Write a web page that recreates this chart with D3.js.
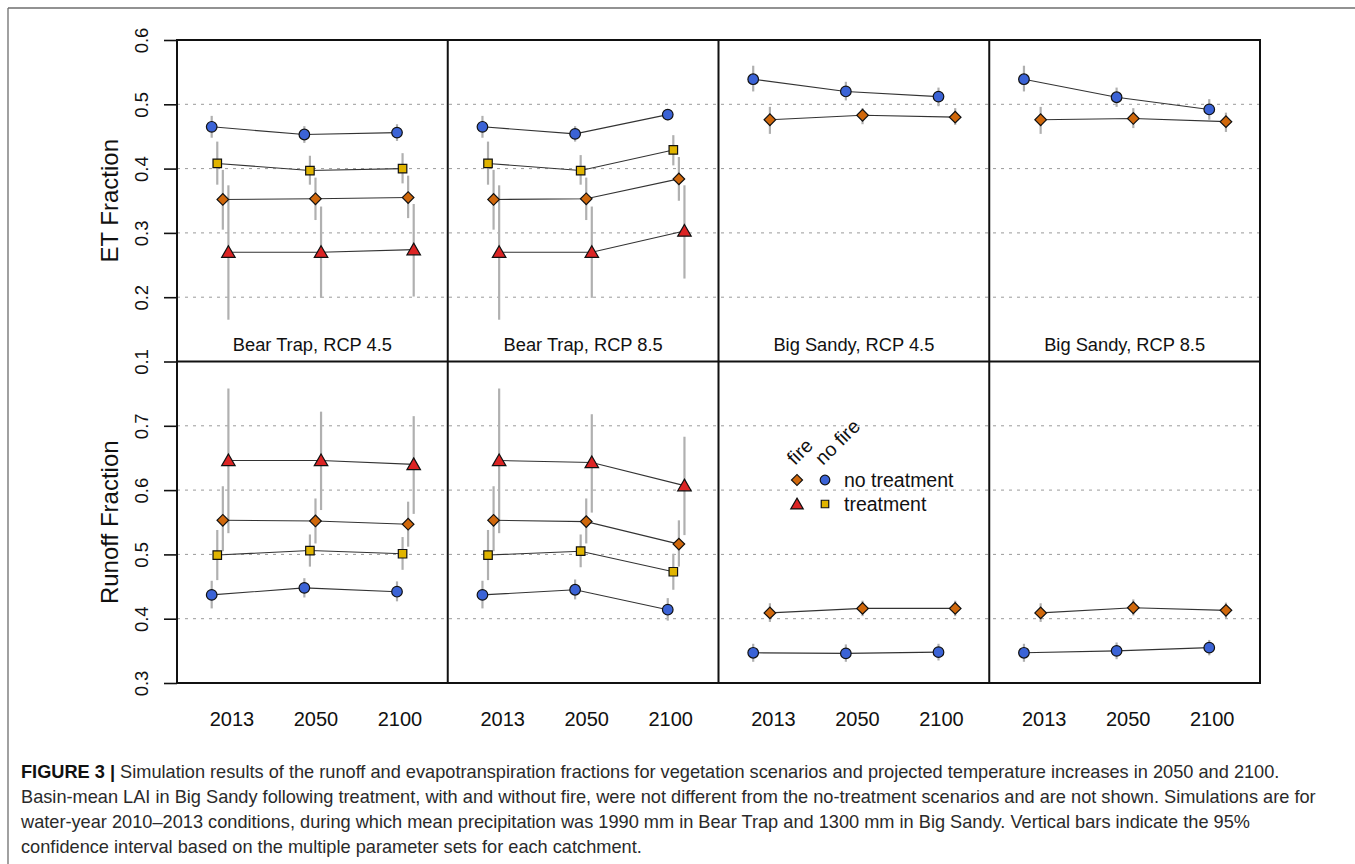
<!DOCTYPE html>
<html>
<head>
<meta charset="utf-8">
<script src="https://cdn.jsdelivr.net/npm/d3@7"></script>
<style>
  html, body { margin: 0; padding: 0; background: #fff; }
  svg { display: block; font-family: "Liberation Sans", Arial, Helvetica, sans-serif; }
</style>
</head>
<body>
<svg id="chart" width="1355" height="864"></svg>
<script>
// ---------------- DATA ----------------
const years = ["2013", "2050", "2100"];
const panelTitles = ["Bear Trap, RCP 4.5", "Bear Trap, RCP 8.5", "Big Sandy, RCP 4.5", "Big Sandy, RCP 8.5"];
const seriesKeys = ["noFireNoTreat", "noFireTreat", "fireNoTreat", "fireTreat"];
const etTicks = [0.1, 0.2, 0.3, 0.4, 0.5, 0.6];
const runoffTicks = [0.3, 0.4, 0.5, 0.6, 0.7];
const etGrid = [0.2, 0.3, 0.4, 0.5];
const runoffGrid = [0.4, 0.5, 0.6, 0.7];

// ET fraction: [mean, low, high] per year
const etBT45 = {
  noFireNoTreat: { mean: [0.465, 0.453, 0.456], lo: [0.448, 0.440, 0.443], hi: [0.482, 0.466, 0.469] },
  noFireTreat:   { mean: [0.408, 0.397, 0.400], lo: [0.375, 0.375, 0.377], hi: [0.442, 0.420, 0.424] },
  fireNoTreat:   { mean: [0.352, 0.353, 0.355], lo: [0.305, 0.320, 0.323], hi: [0.398, 0.386, 0.389] },
  fireTreat:     { mean: [0.270, 0.270, 0.274], lo: [0.165, 0.199, 0.201], hi: [0.374, 0.341, 0.345] }
};
const etBT85 = {
  noFireNoTreat: { mean: [0.465, 0.454, 0.484], lo: [0.448, 0.442, 0.475], hi: [0.482, 0.466, 0.492] },
  noFireTreat:   { mean: [0.408, 0.397, 0.429], lo: [0.375, 0.375, 0.405], hi: [0.442, 0.421, 0.452] },
  fireNoTreat:   { mean: [0.352, 0.353, 0.384], lo: [0.305, 0.320, 0.350], hi: [0.398, 0.386, 0.418] },
  fireTreat:     { mean: [0.270, 0.270, 0.303], lo: [0.165, 0.199, 0.229], hi: [0.374, 0.341, 0.374] }
};
const etBS45 = {
  noFireNoTreat: { mean: [0.539, 0.520, 0.512], lo: [0.520, 0.506, 0.497], hi: [0.560, 0.535, 0.526] },
  fireNoTreat:   { mean: [0.476, 0.483, 0.480], lo: [0.454, 0.469, 0.468], hi: [0.496, 0.494, 0.494] }
};
const etBS85 = {
  noFireNoTreat: { mean: [0.539, 0.511, 0.492], lo: [0.520, 0.496, 0.476], hi: [0.560, 0.526, 0.508] },
  fireNoTreat:   { mean: [0.476, 0.478, 0.473], lo: [0.454, 0.463, 0.457], hi: [0.496, 0.494, 0.487] }
};

// Runoff fraction
const roBT45 = {
  noFireNoTreat: { mean: [0.437, 0.448, 0.442], lo: [0.416, 0.433, 0.427], hi: [0.459, 0.463, 0.458] },
  noFireTreat:   { mean: [0.499, 0.506, 0.501], lo: [0.460, 0.481, 0.476], hi: [0.538, 0.531, 0.527] },
  fireNoTreat:   { mean: [0.553, 0.552, 0.547], lo: [0.505, 0.517, 0.512], hi: [0.606, 0.587, 0.582] },
  fireTreat:     { mean: [0.646, 0.646, 0.640], lo: [0.533, 0.569, 0.563], hi: [0.758, 0.722, 0.715] }
};
const roBT85 = {
  noFireNoTreat: { mean: [0.437, 0.445, 0.414], lo: [0.416, 0.430, 0.397], hi: [0.459, 0.461, 0.432] },
  noFireTreat:   { mean: [0.499, 0.505, 0.473], lo: [0.460, 0.480, 0.445], hi: [0.538, 0.531, 0.501] },
  fireNoTreat:   { mean: [0.553, 0.551, 0.516], lo: [0.505, 0.517, 0.481], hi: [0.606, 0.587, 0.553] },
  fireTreat:     { mean: [0.646, 0.643, 0.607], lo: [0.533, 0.565, 0.530], hi: [0.758, 0.718, 0.683] }
};
const roBS45 = {
  noFireNoTreat: { mean: [0.347, 0.346, 0.348], lo: [0.333, 0.333, 0.335], hi: [0.361, 0.360, 0.361] },
  fireNoTreat:   { mean: [0.409, 0.416, 0.416], lo: [0.395, 0.404, 0.404], hi: [0.424, 0.428, 0.428] }
};
const roBS85 = {
  noFireNoTreat: { mean: [0.347, 0.350, 0.355], lo: [0.333, 0.337, 0.343], hi: [0.361, 0.363, 0.367] },
  fireNoTreat:   { mean: [0.409, 0.417, 0.413], lo: [0.395, 0.405, 0.401], hi: [0.424, 0.430, 0.425] }
};

const etPanels = [etBT45, etBT85, etBS45, etBS85];
const roPanels = [roBT45, roBT85, roBS45, roBS85];

const legendRows = ["no treatment", "treatment"];
const legendCols = ["fire", "no fire"];

const captionLines = [
  ["FIGURE 3 |", " Simulation results of the runoff and evapotranspiration fractions for vegetation scenarios and projected temperature increases in 2050 and 2100."],
  ["", "Basin-mean LAI in Big Sandy following treatment, with and without fire, were not different from the no-treatment scenarios and are not shown. Simulations are for"],
  ["", "water-year 2010\u20132013 conditions, during which mean precipitation was 1990 mm in Bear Trap and 1300 mm in Big Sandy. Vertical bars indicate the 95%"],
  ["", "confidence interval based on the multiple parameter sets for each catchment."]
];

// ---------------- STYLE ----------------
const style = {
  noFireNoTreat: { shape: "circle",   fill: "#3b63d6" },
  noFireTreat:   { shape: "square",   fill: "#e0b400" },
  fireNoTreat:   { shape: "diamond",  fill: "#d0680c" },
  fireTreat:     { shape: "triangle", fill: "#dc2424" }
};

const svg = d3.select("#chart");
const plotL = 177, plotR = 1260, plotT = 40, plotMid = 361.5, plotB = 683;
const panelX = d3.scaleBand().domain(d3.range(4)).range([plotL, plotR]).paddingInner(0).paddingOuter(0);
const pw = panelX.bandwidth();

const yET = d3.scaleLinear().domain([0.1, 0.6]).range([plotMid, plotT]);
const yRO = d3.scaleLinear().domain([0.3, 0.8]).range([plotB, plotMid]);

// frame
svg.append("line").attr("x1", 8).attr("y1", 8).attr("x2", 1355).attr("y2", 8).attr("stroke", "#6e6e6e").attr("stroke-width", 1.3);
svg.append("line").attr("x1", 8).attr("y1", 8).attr("x2", 8).attr("y2", 864).attr("stroke", "#6e6e6e").attr("stroke-width", 1.3);

// grid lines
function grid(vals, y) {
  svg.append("g").selectAll("line").data(vals).join("line")
    .attr("x1", plotL).attr("x2", plotR)
    .attr("y1", d => y(d)).attr("y2", d => y(d))
    .attr("stroke", "#9a9a9a").attr("stroke-width", 1).attr("stroke-dasharray", "3,5");
}
grid(etGrid, yET);
grid(runoffGrid, yRO);

function symbolPath(shape, sz) {
  if (shape === "circle") return d3.symbol(d3.symbolCircle, Math.PI * sz.r * sz.r)();
  if (shape === "square") return d3.symbol(d3.symbolSquare, sz.sq * sz.sq)();
  if (shape === "diamond") return d3.symbol(d3.symbolSquare, sz.dm * sz.dm)();
  return d3.symbol(d3.symbolTriangle, sz.tri * sz.tri * Math.sqrt(3) / 4)();
}
const plotSize = { r: 5.3, sq: 8.5, dm: 8.2, tri: 13.5 };
const legSize = { r: 4.8, sq: 7.5, dm: 7.8, tri: 12.5 };

function drawSymbol(g, shape, fill, x, y, sz) {
  g.append("path")
    .attr("d", symbolPath(shape, sz))
    .attr("transform", `translate(${x},${y})` + (shape === "diamond" ? " rotate(45)" : "") + (shape === "triangle" ? " translate(0,1.3)" : ""))
    .attr("fill", fill).attr("stroke", "#111").attr("stroke-width", 1.2);
}

function drawPanel(data, pi, y) {
  const L = panelX(pi);
  const xYear = d3.scalePoint().domain(years).range([L + 34.7, L + 220]);
  const keys = seriesKeys.filter(k => data[k]);
  const xOff = d3.scalePoint().domain(keys.length === 4 ? seriesKeys : ["noFireNoTreat", "fireNoTreat"]).range([0, 16.7]);
  const g = svg.append("g");
  const px = (k, i) => xYear(years[i]) + xOff(k);
  // error bars
  keys.forEach(k => {
    years.forEach((yr, i) => {
      g.append("line").attr("x1", px(k, i)).attr("x2", px(k, i))
        .attr("y1", y(data[k].lo[i])).attr("y2", y(data[k].hi[i]))
        .attr("stroke", "#b0b0b0").attr("stroke-width", 2.2);
    });
  });
  // lines
  const line = d3.line().x(d => d[0]).y(d => d[1]);
  keys.forEach(k => {
    g.append("path").attr("d", line(years.map((yr, i) => [px(k, i), y(data[k].mean[i])])))
      .attr("fill", "none").attr("stroke", "#333").attr("stroke-width", 1.1);
  });
  // markers
  keys.forEach(k => {
    years.forEach((yr, i) => drawSymbol(g, style[k].shape, style[k].fill, px(k, i), y(data[k].mean[i]), plotSize));
  });
}
etPanels.forEach((d, i) => drawPanel(d, i, yET));
roPanels.forEach((d, i) => drawPanel(d, i, yRO));

// panel borders
svg.append("rect").attr("x", plotL).attr("y", plotT).attr("width", plotR - plotL).attr("height", plotB - plotT)
  .attr("fill", "none").attr("stroke", "#111").attr("stroke-width", 2);
svg.append("line").attr("x1", plotL).attr("x2", plotR).attr("y1", plotMid).attr("y2", plotMid).attr("stroke", "#111").attr("stroke-width", 2);
[1, 2, 3].forEach(i => {
  svg.append("line").attr("x1", panelX(i)).attr("x2", panelX(i)).attr("y1", plotT).attr("y2", plotB).attr("stroke", "#111").attr("stroke-width", 2);
});

// y axes
function yAxis(scale, ticks) {
  const g = svg.append("g").attr("transform", `translate(${plotL},0)`)
    .call(d3.axisLeft(scale).tickValues(ticks).tickSize(13).tickFormat(d3.format(".1f")));
  g.select(".domain").remove();
  g.selectAll(".tick line").attr("stroke", "#111").attr("stroke-width", 1.6);
  g.selectAll(".tick text")
    .attr("x", null).attr("dy", null).attr("y", null)
    .attr("transform", "translate(-29,0) rotate(-90)")
    .attr("text-anchor", "middle")
    .attr("font-size", 18.5).attr("fill", "#111")
    .attr("font-family", "Liberation Sans, Arial, sans-serif");
}
yAxis(yET, etTicks);
yAxis(yRO, runoffTicks);

// axis titles
svg.append("text").attr("transform", `translate(118,${(plotT + plotMid) / 2}) rotate(-90)`)
  .attr("text-anchor", "middle").attr("font-size", 24).attr("fill", "#111").text("ET Fraction");
svg.append("text").attr("transform", `translate(118,${(plotMid + plotB) / 2}) rotate(-90)`)
  .attr("text-anchor", "middle").attr("font-size", 24).attr("fill", "#111").text("Runoff Fraction");

// panel titles
panelTitles.forEach((t, i) => {
  svg.append("text").attr("x", panelX(i) + pw / 2).attr("y", 351)
    .attr("text-anchor", "middle").attr("font-size", 18.3).attr("fill", "#111").text(t);
});

// x tick labels
panelTitles.forEach((t, i) => {
  const L = panelX(i);
  const xl = d3.scalePoint().domain(years).range([L + 55, L + 223]);
  svg.append("g").selectAll("text").data(years).join("text")
    .attr("x", d => xl(d)).attr("y", 726)
    .attr("text-anchor", "middle").attr("font-size", 20).attr("fill", "#111").text(d => d);
});

// legend
const lg = svg.append("g");
const legX = [797, 825];
const legY = [480, 504];
const legShapes = [["fireNoTreat", "noFireNoTreat"], ["fireTreat", "noFireTreat"]];
legendRows.forEach((r, ri) => {
  legShapes[ri].forEach((k, ci) => drawSymbol(lg, style[k].shape, style[k].fill, legX[ci], legY[ri], legSize));
  lg.append("text").attr("x", 844).attr("y", legY[ri] + 7).attr("font-size", 19.5).attr("fill", "#111").text(r);
});
legendCols.forEach((c, ci) => {
  lg.append("text").attr("transform", `translate(${legX[ci] - 2},${466}) rotate(-45)`)
    .attr("font-size", 19.5).attr("fill", "#111").text(c);
});

// caption
const cap = svg.append("g");
captionLines.forEach((ln, i) => {
  const t = cap.append("text").attr("x", 21).attr("y", 778 + i * 25).attr("font-size", 18.2).attr("fill", "#2a2a2a");
  if (ln[0]) t.append("tspan").attr("font-weight", "bold").attr("fill", "#111").text(ln[0]);
  t.append("tspan").text(ln[1]);
});
</script>
</body>
</html>
